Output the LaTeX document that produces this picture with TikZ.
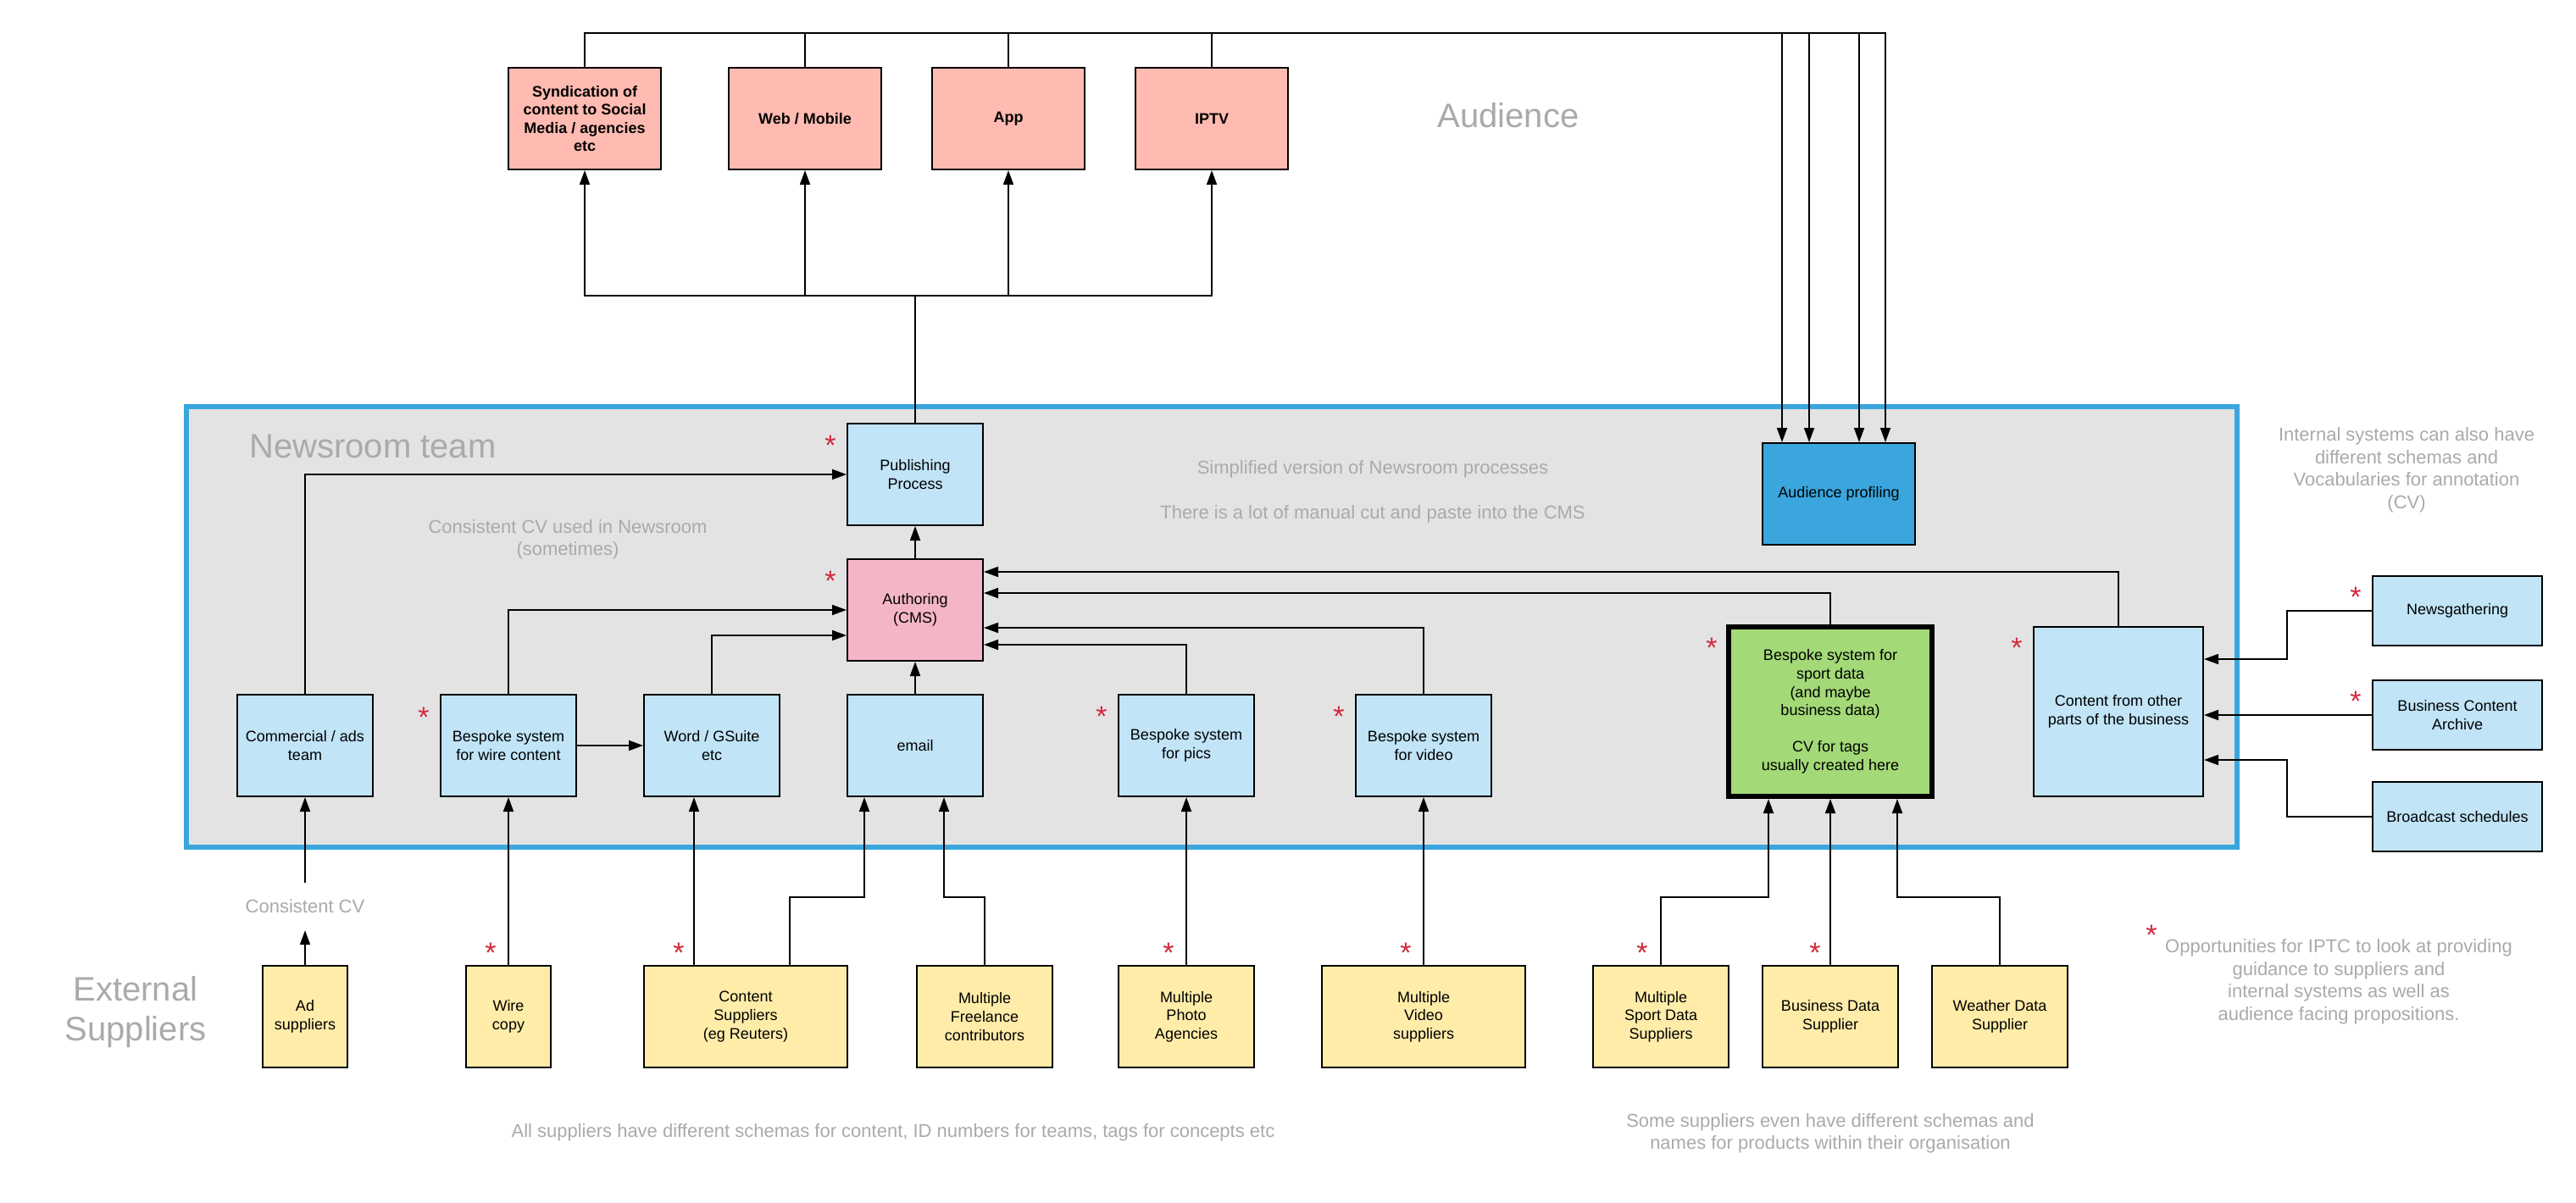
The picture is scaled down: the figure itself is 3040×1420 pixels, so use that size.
\documentclass[tikz,border=0pt]{standalone}
\usepackage{fontspec}
\setmainfont{Liberation Sans}
\usetikzlibrary{arrows.meta}

\definecolor{boxblue}{RGB}{193,228,247}
\definecolor{cmspink}{RGB}{244,182,199}
\definecolor{salmon}{RGB}{255,187,177}
\definecolor{sportgreen}{RGB}{163,217,119}
\definecolor{profblue}{RGB}{58,166,221}
\definecolor{roomgray}{RGB}{227,227,227}
\definecolor{supyellow}{RGB}{255,236,169}
\definecolor{notegray}{RGB}{170,170,170}
\definecolor{starred}{RGB}{210,40,60}

\tikzset{
  box/.style={draw=black, line width=2pt, inner sep=0pt, align=center,
    text=black, font=\fontsize{18}{21.6}\selectfont},
  bluebox/.style={box, fill=boxblue},
  pinkbox/.style={box, fill=cmspink},
  outbox/.style={box, fill=salmon, font=\fontsize{18}{21.6}\selectfont\bfseries},
  supbox/.style={box, fill=supyellow, minimum height=120pt},
  greenbox/.style={box, fill=sportgreen, line width=6pt},
  profbox/.style={box, fill=profblue},
  conn/.style={line width=1.8pt, -{Triangle[length=17pt,width=12pt]}},
  note/.style={text=notegray, align=center, inner sep=0pt,
    font=\fontsize{22}{26.5}\selectfont},
  bignote/.style={text=notegray, align=center, inner sep=0pt,
    font=\fontsize{40}{47}\selectfont},
  star/.style={text=starred, inner sep=0pt, font=\fontsize{34}{40}\selectfont},
}

\begin{document}
\begin{tikzpicture}[x=1pt,y=-1pt]
\useasboundingbox (0,0) rectangle (3040,1420);
\fill[white] (0,0) rectangle (3040,1420);

% newsroom area
\node[draw=profblue, line width=6pt, fill=roomgray, inner sep=0pt,
  minimum width=2420pt, minimum height=520pt] (room) at (1430,740) {};

% headings and notes
\node[bignote] (audtitle) at (1780,136) {Audience};
\node[bignote] (roomtitle) at (440,527) {Newsroom team};
\node[bignote] (exttitle) at (160,1195) {External\\Suppliers};
\node[note] (simplified) at (1620,580) {Simplified version of Newsroom processes\\[26.5pt]There is a lot of manual cut and paste into the CMS};
\node[note] (cvroom) at (670,637) {Consistent CV used in Newsroom\\(sometimes)};
\node[note] (internal) at (2840,555) {Internal systems can also have\\different schemas and\\Vocabularies for annotation\\(CV)};
\node[note] (allsup) at (1054,1337) {All suppliers have different schemas for content, ID numbers for teams, tags for concepts etc};
\node[note] (somesup) at (2160,1338) {Some suppliers even have different schemas and\\names for products within their organisation};
\node[note] (iptc) at (2760,1159) {Opportunities for IPTC to look at providing\\guidance to suppliers and\\internal systems as well as\\audience facing propositions.};
\node[note, minimum height=56pt] (cvlabel) at (360,1070) {Consistent CV};

% audience facing outputs
\node[outbox, minimum width=180pt, minimum height=120pt] (synd) at (690,140) {Syndication of\\content to Social\\Media / agencies\\etc};
\node[outbox, minimum width=180pt, minimum height=120pt] (web) at (950,140) {Web / Mobile};
\node[outbox, minimum width=180pt, minimum height=120pt] (app) at (1190,140) {App};
\node[outbox, minimum width=180pt, minimum height=120pt] (iptv) at (1430,140) {IPTV};

% newsroom systems
\node[bluebox, minimum width=160pt, minimum height=120pt] (pub) at (1080,560) {Publishing\\Process};
\node[pinkbox, minimum width=160pt, minimum height=120pt] (auth) at (1080,720) {Authoring\\(CMS)};
\node[bluebox, minimum width=160pt, minimum height=120pt] (comm) at (360,880) {Commercial / ads\\team};
\node[bluebox, minimum width=160pt, minimum height=120pt] (wire) at (600,880) {Bespoke system\\for wire content};
\node[bluebox, minimum width=160pt, minimum height=120pt] (word) at (840,880) {Word / GSuite\\etc};
\node[bluebox, minimum width=160pt, minimum height=120pt] (email) at (1080,880) {email};
\node[bluebox, minimum width=160pt, minimum height=120pt] (pics) at (1400,880) {Bespoke system\\for pics};
\node[bluebox, minimum width=160pt, minimum height=120pt] (video) at (1680,880) {Bespoke system\\for video};
\node[greenbox, minimum width=240pt, minimum height=200pt] (sport) at (2160,840) {Bespoke system for\\sport data\\(and maybe\\business data)\\[21.6pt]CV for tags\\usually created here};
\node[bluebox, minimum width=200pt, minimum height=200pt] (other) at (2500,840) {Content from other\\parts of the business};
\node[profbox, minimum width=180pt, minimum height=120pt] (prof) at (2170,583) {Audience profiling};

% internal sources
\node[bluebox, minimum width=200pt, minimum height=82pt] (news) at (2900,721) {Newsgathering};
\node[bluebox, minimum width=200pt, minimum height=82pt] (arch) at (2900,844) {Business Content\\Archive};
\node[bluebox, minimum width=200pt, minimum height=82pt] (bcast) at (2900,964) {Broadcast schedules};

% external suppliers
\node[supbox, minimum width=100pt] (adsup) at (360,1200) {Ad\\suppliers};
\node[supbox, minimum width=100pt] (wirecopy) at (600,1200) {Wire\\copy};
\node[supbox, minimum width=240pt] (csup) at (880,1200) {Content\\Suppliers\\(eg Reuters)};
\node[supbox, minimum width=160pt] (free) at (1162,1200) {Multiple\\Freelance\\contributors};
\node[supbox, minimum width=160pt] (photo) at (1400,1200) {Multiple\\Photo\\Agencies};
\node[supbox, minimum width=240pt] (vidsup) at (1680,1200) {Multiple\\Video\\suppliers};
\node[supbox, minimum width=160pt] (sportsup) at (1960,1200) {Multiple\\Sport Data\\Suppliers};
\node[supbox, minimum width=160pt] (bizsup) at (2160,1200) {Business Data\\Supplier};
\node[supbox, minimum width=160pt] (weather) at (2360,1200) {Weather Data\\Supplier};

% markers for IPTC opportunities
\node[star] (s1) at (980,526) {*};
\node[star] (s2) at (980,686) {*};
\node[star] (s3) at (500,847) {*};
\node[star] (s4) at (1300,846) {*};
\node[star] (s5) at (1580,846) {*};
\node[star] (s6) at (2020,765) {*};
\node[star] (s7) at (2380,765) {*};
\node[star] (s8) at (2780,705) {*};
\node[star] (s9) at (2780,828) {*};
\node[star] (s10) at (579,1125) {*};
\node[star] (s11) at (801,1125) {*};
\node[star] (s12) at (1379,1125) {*};
\node[star] (s13) at (1659,1125) {*};
\node[star] (s14) at (1938,1125) {*};
\node[star] (s15) at (2142,1125) {*};
\node[star] (s16) at (2539,1104) {*};

% publishing to outputs
\draw[conn] (pub.north) -- ++(0,-150) -| (synd.south);
\draw[conn] (pub.north) -- ++(0,-150) -| (web.south);
\draw[conn] (pub.north) -- ++(0,-150) -| (app.south);
\draw[conn] (pub.north) -- ++(0,-150) -| (iptv.south);

% outputs feeding audience profiling
\draw[conn] (synd.north) -- ++(0,-40) -| ([xshift=55pt]prof.north);
\draw[conn] (web.north) -- ++(0,-40) -| ([xshift=24pt]prof.north);
\draw[conn] (app.north) -- ++(0,-40) -| ([xshift=-35pt]prof.north);
\draw[conn] (iptv.north) -- ++(0,-40) -| ([xshift=-67pt]prof.north);

% newsroom flows
\draw[conn] (auth.north) -- (pub.south);
\draw[conn] (comm.north) |- (pub.west);
\draw[conn] (wire.north) |- (auth.west);
\draw[conn] (word.north) |- ([yshift=-30pt]auth.west);
\draw[conn] (wire.east) -- (word.west);
\draw[conn] (email.north) -- (auth.south);
\draw[conn] (other.north) |- ([yshift=45pt]auth.east);
\draw[conn] (sport.north) |- ([yshift=20pt]auth.east);
\draw[conn] (video.north) |- ([yshift=-21pt]auth.east);
\draw[conn] (pics.north) |- ([yshift=-41pt]auth.east);

% internal sources into content from other parts
\draw[conn] (news.west) -- ++(-100,0) |- ([yshift=62pt]other.east);
\draw[conn] (arch.west) -- (arch.west -| other.east);
\draw[conn] (bcast.west) -- ++(-100,0) |- ([yshift=-57pt]other.east);

% suppliers into the newsroom
\draw[conn] (adsup.north) -- (cvlabel.south);
\draw[conn] (cvlabel.north) -- (comm.south);
\draw[conn] (wirecopy.north) -- (wire.south);
\draw[conn] ([xshift=-61pt]csup.north) -- ([xshift=-21pt]word.south);
\draw[conn] ([xshift=52pt]csup.north) -- ++(0,-80) -| ([xshift=-60pt]email.south);
\draw[conn] (free.north) -- ++(0,-80) -| ([xshift=34pt]email.south);
\draw[conn] (photo.north) -- (pics.south);
\draw[conn] (vidsup.north) -- (video.south);
\draw[conn] (sportsup.north) -- ++(0,-80) -| ([xshift=-73pt]sport.south);
\draw[conn] (bizsup.north) -- (sport.south);
\draw[conn] (weather.north) -- ++(0,-80) -| ([xshift=79pt]sport.south);
\end{tikzpicture}
\end{document}
